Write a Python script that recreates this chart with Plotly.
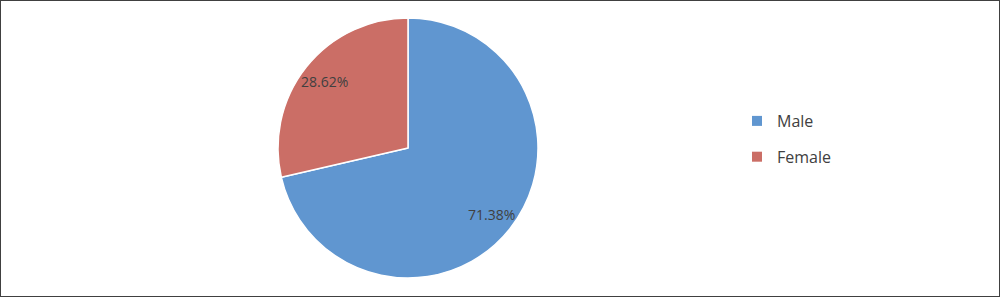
import math
import plotly.graph_objects as go

labels = ["Male", "Female"]
values = [71.38, 28.62]
colors = ["#6096D0", "#CB6E66"]
text_labels = ["71.38%", "28.62%"]

W, H = 1000, 297
cx, cy = 0.408, 0.5017
R_px = 130
label_frac = 0.82

fig = go.Figure()
fig.add_trace(go.Pie(
    labels=labels, values=values, sort=False, direction="clockwise", rotation=0,
    marker=dict(colors=colors, line=dict(color="white", width=1.5)),
    textinfo="none", hoverinfo="label+percent", showlegend=False,
    domain=dict(x=[cx - R_px / W, cx + R_px / W], y=[cy - R_px / H, cy + R_px / H]),
))

# dummy legend entries (square markers) so item spacing can match
for i, (lab, col) in enumerate(zip(labels, colors)):
    fig.add_trace(go.Scatter(
        x=[None], y=[None], mode="markers", name=lab, legendgroup=lab,
        marker=dict(symbol="square", size=10, color=col),
        showlegend=True,
    ))

# slice percentage labels placed at mid-angle of each slice
total = sum(values)
cum = 0.0
annotations = []
for v, t in zip(values, text_labels):
    mid = (cum + v / 2) / total * 2 * math.pi
    cum += v
    x = cx + label_frac * R_px * math.sin(mid) / W
    y = cy + label_frac * R_px * math.cos(mid) / H
    annotations.append(dict(x=x, y=y, xref="paper", yref="paper", text=t, showarrow=False,
                            font=dict(size=14, color="#404040", family="Open Sans"),
                            xanchor="center", yanchor="middle"))

fig.update_layout(
    width=W, height=H,
    margin=dict(l=0, r=0, t=0, b=0),
    paper_bgcolor="white", plot_bgcolor="white",
    xaxis=dict(visible=False), yaxis=dict(visible=False),
    font=dict(family="Open Sans", color="#404040"),
    legend=dict(x=0.737, y=0.532, xanchor="left", yanchor="middle",
                font=dict(size=16, color="#404040", family="Open Sans"),
                tracegroupgap=12, itemclick=False, bgcolor="rgba(0,0,0,0)"),
    annotations=annotations,
    shapes=[dict(type="rect", xref="paper", yref="paper", x0=0, y0=0, x1=1, y1=1,
                 line=dict(color="#404040", width=2), fillcolor="rgba(0,0,0,0)", layer="above")],
)

fig.write_html("out.html")
